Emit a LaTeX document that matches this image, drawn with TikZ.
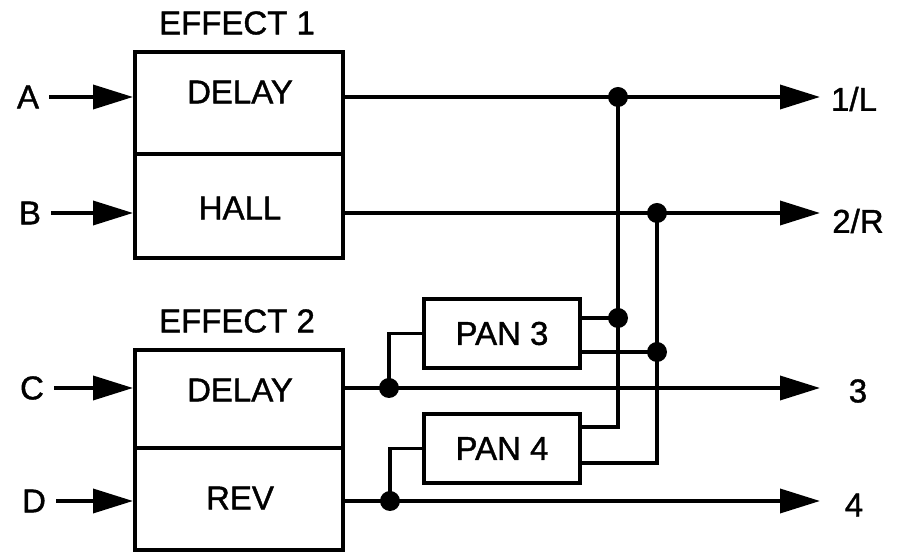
\documentclass[tikz,border=0pt]{standalone}
\usepackage{fontspec}
\setmainfont{Liberation Sans}
\newfontfamily\diagfont[FakeBold=1.2]{Liberation Sans}
\usetikzlibrary{arrows.meta}
\tikzset{
  txt/.style={font=\diagfont\fontsize{16.5}{18}\selectfont, inner sep=0pt},
  fxbox/.style={draw, line width=2pt, minimum width=104pt, inner sep=0pt},
  panbox/.style={draw, line width=2pt, minimum width=78pt, minimum height=34.5pt, txt},
  wire/.style={line width=1.8pt},
  sig/.style={wire, -{Triangle[length=20pt,width=12pt]}},
  jdot/.style={circle, fill, inner sep=0pt, minimum size=10pt},
}
\begin{document}
\begin{tikzpicture}[x=0.5pt, y=-0.5pt]
  \useasboundingbox (0,0) rectangle (902,555);
  % effect units
  \node[fxbox, minimum height=103pt] (fx1) at (239,155) {};
  \node[fxbox, minimum height=100pt] (fx2) at (239,450) {};
  \coordinate (mid1) at (239,154);
  \coordinate (mid2) at (239,448);
  \draw[line width=2pt] (fx1.west |- mid1) -- (fx1.east |- mid1);
  \draw[line width=2pt] (fx2.west |- mid2) -- (fx2.east |- mid2);
  \node[txt] (fx1name) at (237,23) {EFFECT 1};
  \node[txt] (fx2name) at (237,321) {EFFECT 2};
  \node[txt] (dly1) at (240,92) {DELAY};
  \node[txt] (hall) at (240,208) {HALL};
  \node[txt] (dly2) at (240,390) {DELAY};
  \node[txt] (rev) at (240,498) {REV};
  % inputs and outputs
  \foreach \k/\x/\y/\fx/\o/\ox/\oy in {A/28/97/fx1/{1/L}/854/99, B/30/213/fx1/{2/R}/858/221, C/32/388/fx2/3/858/391, D/34/501/fx2/4/854/505} {
    \node[txt] (in\k) at (\x,\y) {\k};
    \node[txt] (out\k) at (\ox,\oy) {\o};
    \coordinate (tip\k) at (820,\y);
    \draw[sig] ([xshift=5pt]in\k.east) -- (in\k -| \fx.west);
    \draw[sig] (in\k -| \fx.east) -- (tip\k);
  }
  % pan units
  \node[panbox] (pan3) at (502,333.5) {PAN 3};
  \node[panbox] (pan4) at (502,448.5) {PAN 4};
  \node[jdot] (j1) at (618,97) {};
  \node[jdot] (j2) at (657,213) {};
  \node[jdot] (j3) at (618,318) {};
  \node[jdot] (j4) at (657,352) {};
  \node[jdot] (j5) at (389,388) {};
  \node[jdot] (j6) at (390,501) {};
  \coordinate (p4a) at (618,427);
  \coordinate (p4b) at (657,463);
  \draw[wire] (j5.center) |- (pan3.west);
  \draw[wire] (j6.center) |- (pan4.west);
  \draw[wire] (pan3.east |- j3) -- (j3.center);
  \draw[wire] (pan3.east |- j4) -- (j4.center);
  \draw[wire] (j1.center) -- (p4a) -- (pan4.east |- p4a);
  \draw[wire] (j2.center) -- (p4b) -- (pan4.east |- p4b);
\end{tikzpicture}
\end{document}
